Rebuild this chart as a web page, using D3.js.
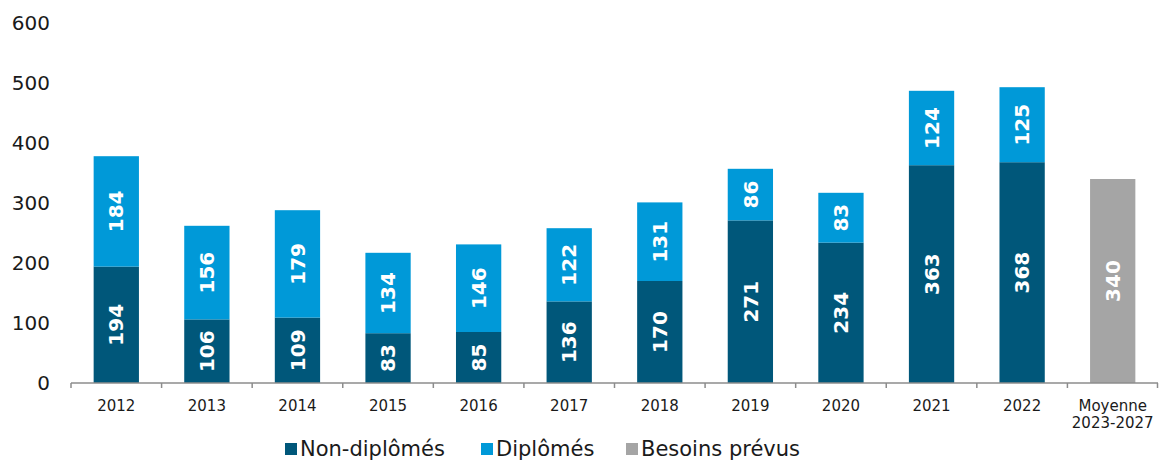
<!DOCTYPE html>
<html>
<head>
<meta charset="utf-8">
<script src="https://cdn.jsdelivr.net/npm/d3@7"></script>
<style>
  body { margin: 0; background: #fff; }
  svg { display: block; font-family: "DejaVu Sans", Verdana, sans-serif; }
</style>
</head>
<body>
<div id="chart"></div>
<script>
// Data
const categories = ["2012", "2013", "2014", "2015", "2016", "2017", "2018", "2019", "2020", "2021", "2022", "Moyenne\n2023-2027"];
const nonDiplomes = [194, 106, 109, 83, 85, 136, 170, 271, 234, 363, 368, null];
const diplomes = [184, 156, 179, 134, 146, 122, 131, 86, 83, 124, 125, null];
const besoins = [null, null, null, null, null, null, null, null, null, null, null, 340];
const yTicks = [0, 100, 200, 300, 400, 500, 600];
const seriesNames = ["Non-diplômés", "Diplômés", "Besoins prévus"];
const colors = ["#00577a", "#0099d8", "#a5a5a5"];

const width = 1159, height = 462;
const margin = { top: 23, right: 1, bottom: 79, left: 71 };

const svg = d3.select("#chart").append("svg")
  .attr("width", width)
  .attr("height", height);

const x = d3.scaleBand()
  .domain(categories)
  .range([margin.left, width - margin.right])
  .paddingInner(0.5)
  .paddingOuter(0.25);

const y = d3.scaleLinear()
  .domain([0, 600])
  .range([height - margin.bottom, margin.top]);

// y labels (no axis line)
svg.append("g")
  .selectAll("text")
  .data(yTicks)
  .join("text")
  .attr("x", 50)
  .attr("y", d => y(d))
  .attr("dy", "0.35em")
  .attr("text-anchor", "end")
  .attr("font-size", 20)
  .attr("fill", "#1a1a1a")
  .text(d => d);

// stacked bars
const bars = svg.append("g");
categories.forEach((c, i) => {
  const segs = [];
  if (nonDiplomes[i] != null) segs.push({ v: nonDiplomes[i], base: 0, color: colors[0] });
  if (diplomes[i] != null) segs.push({ v: diplomes[i], base: nonDiplomes[i], color: colors[1] });
  if (besoins[i] != null) segs.push({ v: besoins[i], base: 0, color: colors[2] });
  segs.forEach(s => {
    bars.append("rect")
      .attr("x", x(c))
      .attr("width", x.bandwidth())
      .attr("y", y(s.base + s.v))
      .attr("height", y(s.base) - y(s.base + s.v))
      .attr("fill", s.color);
    const cx = x(c) + x.bandwidth() / 2;
    const cy = (y(s.base) + y(s.base + s.v)) / 2;
    bars.append("text")
      .attr("transform", `translate(${cx},${cy}) rotate(-90)`)
      .attr("text-anchor", "middle")
      .attr("dy", "0.36em")
      .attr("font-size", 20)
      .attr("font-weight", "bold")
      .attr("fill", "#fff")
      .text(s.v);
  });
});

// x axis line + ticks at boundaries
const step = x.step();
const axisY = y(0);
const axisG = svg.append("g").attr("stroke", "#8c8c8c").attr("stroke-width", 1.5);
axisG.append("line")
  .attr("x1", margin.left).attr("x2", width - margin.right)
  .attr("y1", axisY).attr("y2", axisY);
axisG.selectAll("line.tick")
  .data(d3.range(categories.length + 1))
  .join("line")
  .attr("class", "tick")
  .attr("x1", i => Math.min(margin.left + i * step, width - margin.right - 0.5))
  .attr("x2", i => Math.min(margin.left + i * step, width - margin.right - 0.5))
  .attr("y1", axisY).attr("y2", axisY + 5);

// category labels
svg.append("g")
  .selectAll("text")
  .data(categories)
  .join("text")
  .attr("x", d => x(d) + x.bandwidth() / 2)
  .attr("y", axisY + 28)
  .attr("text-anchor", "middle")
  .attr("font-size", 15)
  .attr("fill", "#1a1a1a")
  .each(function(d) {
    const lines = d.split("\n");
    d3.select(this).selectAll("tspan")
      .data(lines)
      .join("tspan")
      .attr("x", x(d) + x.bandwidth() / 2)
      .attr("dy", (l, j) => j === 0 ? 0 : 17)
      .text(l => l);
  });

// legend
const legendX = [285, 481, 626];
const legend = svg.append("g");
seriesNames.forEach((name, i) => {
  legend.append("rect")
    .attr("x", legendX[i]).attr("y", 443)
    .attr("width", 12).attr("height", 12)
    .attr("fill", colors[i]);
  legend.append("text")
    .attr("x", legendX[i] + 15).attr("y", 449)
    .attr("dy", "0.35em")
    .attr("font-size", 21)
    .attr("fill", "#1a1a1a")
    .text(name);
});
</script>
</body>
</html>
